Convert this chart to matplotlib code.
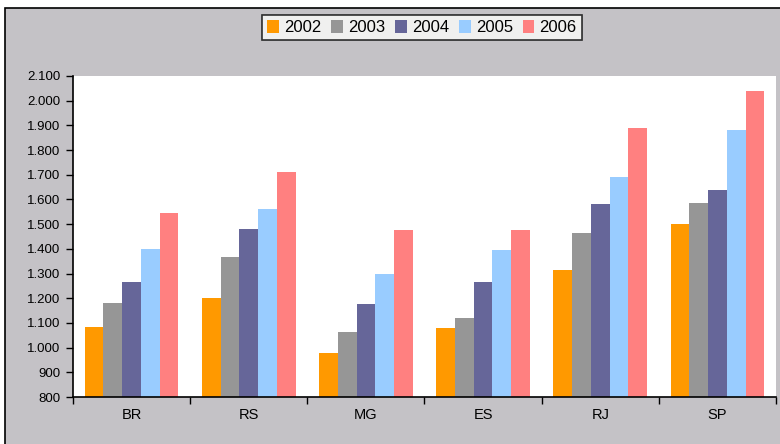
import numpy as np
import matplotlib.pyplot as plt
from matplotlib.patches import Rectangle
from matplotlib.ticker import FuncFormatter, FixedLocator

plt.rcParams['font.family'] = ['Liberation Sans', 'DejaVu Sans']

# data
categories = ['BR', 'RS', 'MG', 'ES', 'RJ', 'SP']
years = ['2002', '2003', '2004', '2005', '2006']
v2002 = [1085, 1200, 980, 1080, 1315, 1500]
v2003 = [1180, 1365, 1065, 1120, 1465, 1585]
v2004 = [1265, 1480, 1175, 1265, 1580, 1640]
v2005 = [1400, 1560, 1300, 1395, 1690, 1880]
v2006 = [1545, 1710, 1475, 1475, 1890, 2040]
series = [v2002, v2003, v2004, v2005, v2006]
colors = ['#FF9900', '#969696', '#666699', '#99CCFF', '#FF8080']

fig = plt.figure(figsize=(7.8, 4.44), dpi=100, facecolor='white')

# gray chart area with black frame
W, H = 780, 444
fig.patches.append(Rectangle((5 / W, -0.05), 1.0, 1 - 8 / H + 0.05,
                             transform=fig.transFigure, facecolor='#C4C2C6',
                             edgecolor='black', linewidth=1.2, zorder=-1))

ax = fig.add_axes([73 / W, 1 - 397 / H, 703 / W, 321 / H])
ax.set_facecolor('white')

x = np.arange(len(categories))
bw = 0.16
for i, (vals, c, yr) in enumerate(zip(series, colors, years)):
    ax.bar(x + (i - 2) * bw, np.array(vals) - 800, bottom=800, width=bw,
           color=c, label=yr, zorder=2)

ax.set_xlim(-0.5, len(categories) - 0.5)
ax.set_ylim(800, 2100)
ax.set_yticks(np.arange(800, 2101, 100))
ax.yaxis.set_major_formatter(FuncFormatter(lambda v, p: f'{v:,.0f}'.replace(',', '.')))
ax.set_xticks(x)
ax.set_xticklabels(categories)
ax.xaxis.set_minor_locator(FixedLocator(np.arange(-0.5, len(categories), 1.0)))
ax.tick_params(axis='x', which='major', length=0, pad=8, labelsize=10.5)
ax.tick_params(axis='x', which='minor', length=5, width=1, direction='out')
ax.tick_params(axis='y', length=5, width=1, direction='out', labelsize=9.5, pad=4)

for s in ['top', 'right']:
    ax.spines[s].set_visible(False)
for s in ['left', 'bottom']:
    ax.spines[s].set_linewidth(1.2)

leg = fig.legend(loc='center', bbox_to_anchor=(422 / W, 1 - 27.5 / H), ncol=5,
                 fontsize=12, frameon=True, fancybox=False, handlelength=0.7,
                 handleheight=0.9, handletextpad=0.3, columnspacing=0.6,
                 borderpad=0.3)
leg.get_frame().set_edgecolor('black')
leg.get_frame().set_facecolor('#FCFCFA')
leg.get_frame().set_linewidth(1.2)

fig.savefig('out.png', dpi=100, facecolor=fig.get_facecolor())
